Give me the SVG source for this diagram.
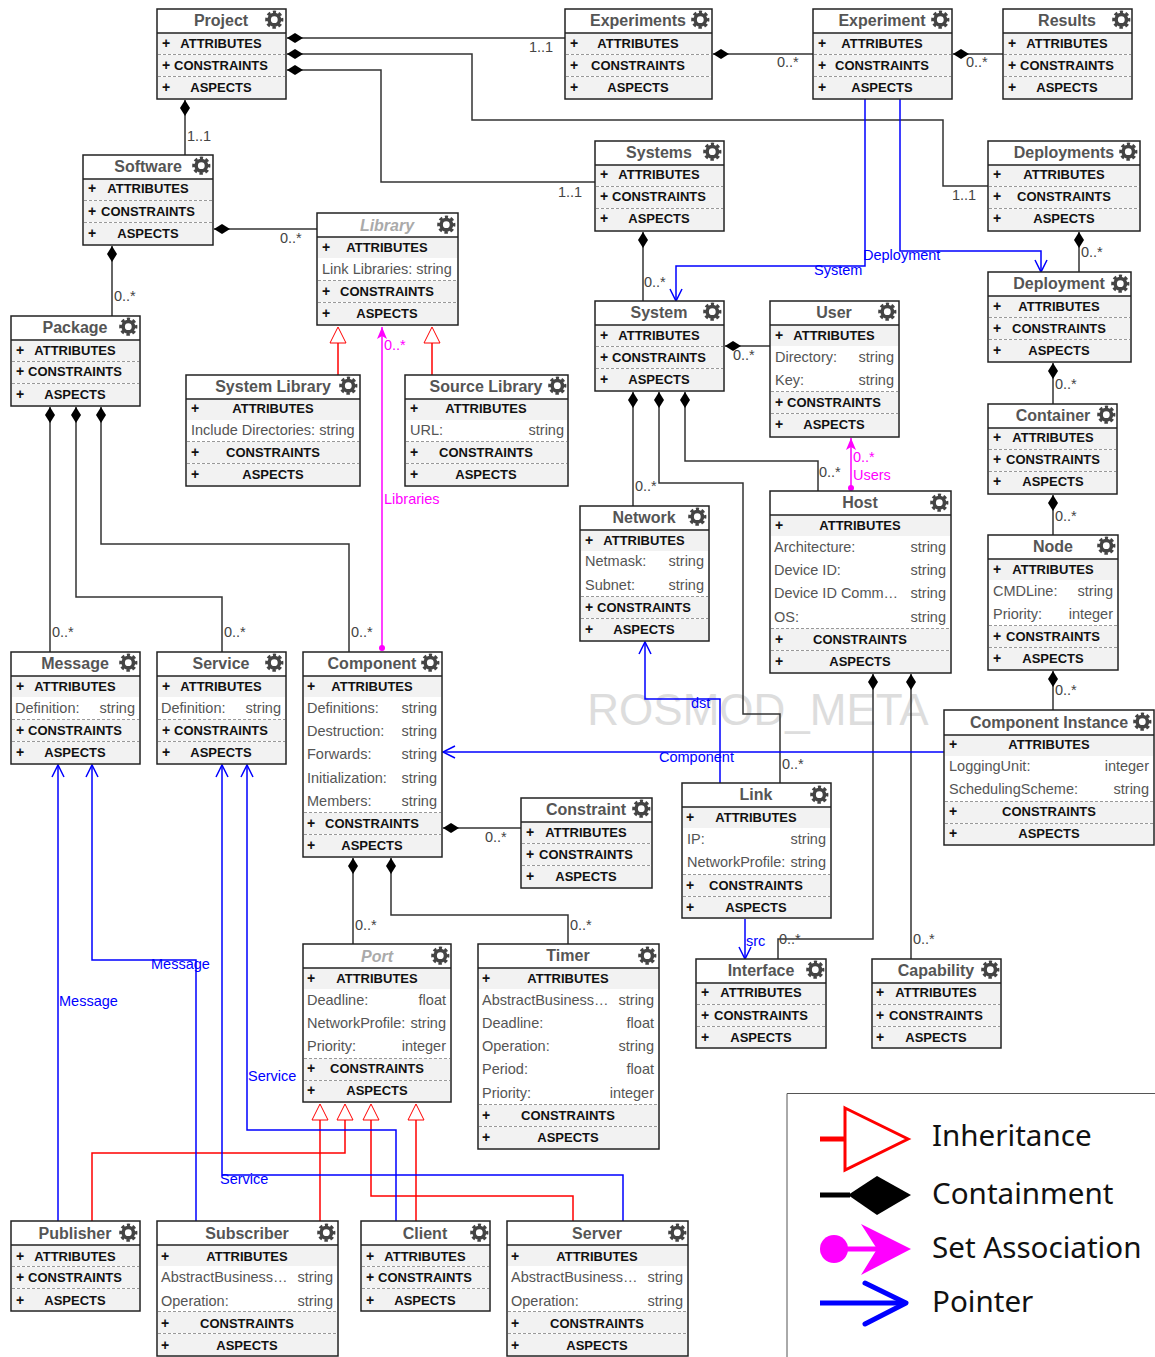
<svg xmlns="http://www.w3.org/2000/svg" xmlns:xlink="http://www.w3.org/1999/xlink" width="1155" height="1357" viewBox="0 0 1155 1357" font-family="'Liberation Sans', Arial, sans-serif">
<style>
.box{fill:#fff;stroke:#222;stroke-width:1.5}
.b{fill:#f2f2f2}
.s{stroke:#222;stroke-width:1.5}
.d{stroke:#999;stroke-width:1;stroke-dasharray:3 2}
.t{font-size:16px;font-weight:bold;fill:#555;text-anchor:middle}
.a{font-style:italic;fill:#aaa}
.h{font-size:13px;font-weight:bold;fill:#111;text-anchor:middle}
.p{font-size:14px;font-weight:bold;fill:#111}
.f{font-size:14.5px;fill:#555}
.v{font-size:14.5px;fill:#555;text-anchor:end}
.k{fill:none;stroke:#333;stroke-width:1.5}
.r{fill:none;stroke:#f00;stroke-width:1.5}
.u{fill:none;stroke:#00f;stroke-width:1.5}
.m{fill:none;stroke:#f0f;stroke-width:1.5}
.l{font-size:14.5px;fill:#444}
.lb{font-size:14.5px;fill:#00f}
.lm{font-size:14.5px;fill:#f0f}
.g{font-family:'Noto Sans','Open Sans',sans-serif;font-size:29.6px;fill:#111}
</style>
<defs>
<g id="gear"><g transform="translate(0.3,0.7)"><circle r="5.2" fill="none" stroke="#444" stroke-width="3.6"/><circle r="7.6" fill="none" stroke="#444" stroke-width="3" stroke-dasharray="3.4 2.57" stroke-dashoffset="1.7" transform="rotate(-90)"/></g></g>
<marker id="dia" markerUnits="userSpaceOnUse" markerWidth="18" markerHeight="12" refX="0" refY="5" orient="auto" overflow="visible"><path d="M0 5L8 0L16 5L8 10Z" fill="#000"/></marker>
<marker id="tri" markerUnits="userSpaceOnUse" markerWidth="18" markerHeight="18" refX="0" refY="8" orient="auto" overflow="visible"><path d="M0 0L16 8L0 16Z" fill="#fff" stroke="#f00" stroke-width="1"/></marker>
<marker id="arr" markerUnits="userSpaceOnUse" markerWidth="14" markerHeight="14" refX="12" refY="6" orient="auto" overflow="visible"><path d="M0 0L12 6L0 12" fill="none" stroke="#00f" stroke-width="1.5"/></marker>
<marker id="mag" markerUnits="userSpaceOnUse" markerWidth="14" markerHeight="14" refX="12" refY="5" orient="auto" overflow="visible"><path d="M0 0L12 5L0 10L3 5Z" fill="#f0f"/></marker>
<marker id="dot" markerUnits="userSpaceOnUse" markerWidth="8" markerHeight="8" refX="3" refY="3" orient="auto" overflow="visible"><circle cx="3" cy="3" r="3" fill="#f0f"/></marker>
</defs>
<text x="758" y="725" font-size="44" fill="#ddd" text-anchor="middle">ROSMOD_META</text>
<g id="connectors">
<path class="k" marker-start="url(#dia)" d="M287 38H565"/>
<path class="k" marker-start="url(#dia)" d="M287 54H472V120H943V186H988"/>
<path class="k" marker-start="url(#dia)" d="M287 70H381V182H595"/>
<path class="k" marker-start="url(#dia)" d="M185 100V155"/>
<path class="k" marker-start="url(#dia)" d="M214 229H317"/>
<path class="k" marker-start="url(#dia)" d="M112 246V316"/>
<path class="k" marker-start="url(#dia)" d="M50 407V652"/>
<path class="k" marker-start="url(#dia)" d="M76 407V597H222V652"/>
<path class="k" marker-start="url(#dia)" d="M101 407V544H349V652"/>
<path class="k" marker-start="url(#dia)" d="M713 54H813"/>
<path class="k" marker-start="url(#dia)" d="M953 54H1003"/>
<path class="k" marker-start="url(#dia)" d="M643 232V301"/>
<path class="k" marker-start="url(#dia)" d="M1079 232V272"/>
<path class="k" marker-start="url(#dia)" d="M1053 363V404"/>
<path class="k" marker-start="url(#dia)" d="M1053 495V535"/>
<path class="k" marker-start="url(#dia)" d="M1053 671V710"/>
<path class="k" marker-start="url(#dia)" d="M725 346H770"/>
<path class="k" marker-start="url(#dia)" d="M633 392V506"/>
<path class="k" marker-start="url(#dia)" d="M659 392V483H743V714H780V783"/>
<path class="k" marker-start="url(#dia)" d="M685 392V461H818V491"/>
<path class="k" marker-start="url(#dia)" d="M873 674V939H778V959"/>
<path class="k" marker-start="url(#dia)" d="M911 674V959"/>
<path class="k" marker-start="url(#dia)" d="M443 828H521"/>
<path class="k" marker-start="url(#dia)" d="M353 858V944"/>
<path class="k" marker-start="url(#dia)" d="M391 858V915H568V944"/>
<path class="r" marker-end="url(#tri)" d="M338 375V343"/>
<path class="r" marker-end="url(#tri)" d="M432 375V343"/>
<path class="r" marker-end="url(#tri)" d="M92 1221V1153H345V1120"/>
<path class="r" marker-end="url(#tri)" d="M320 1221V1120"/>
<path class="r" marker-end="url(#tri)" d="M416 1221V1120"/>
<path class="r" marker-end="url(#tri)" d="M573 1221V1196H371V1120"/>
<path class="u" marker-end="url(#arr)" d="M865 99V266H676V301"/>
<path class="u" marker-end="url(#arr)" d="M900 99V251H1041V272"/>
<path class="u" marker-end="url(#arr)" d="M720 783V699H645V642"/>
<path class="u" marker-end="url(#arr)" d="M745 919V959"/>
<path class="u" marker-end="url(#arr)" d="M944 752H443"/>
<path class="u" marker-end="url(#arr)" d="M58 1221V765"/>
<path class="u" marker-end="url(#arr)" d="M196 1221V960H92V765"/>
<path class="u" marker-end="url(#arr)" d="M396 1221V1130H247V765"/>
<path class="u" marker-end="url(#arr)" d="M623 1221V1175H222V765"/>
<path class="m" marker-start="url(#dot)" marker-end="url(#mag)" d="M382 648V327"/>
<path class="m" marker-start="url(#dot)" marker-end="url(#mag)" d="M851 488V438"/>
<g class="labels">
<text class="l" x="529" y="52">1..1</text>
<text class="l" x="952" y="200">1..1</text>
<text class="l" x="558" y="197">1..1</text>
<text class="l" x="187" y="141">1..1</text>
<text class="l" x="280" y="243">0..*</text>
<text class="l" x="114" y="301">0..*</text>
<text class="l" x="52" y="637">0..*</text>
<text class="l" x="224" y="637">0..*</text>
<text class="l" x="351" y="637">0..*</text>
<text class="l" x="777" y="67">0..*</text>
<text class="l" x="966" y="67">0..*</text>
<text class="l" x="644" y="287">0..*</text>
<text class="l" x="1081" y="257">0..*</text>
<text class="l" x="1055" y="389">0..*</text>
<text class="l" x="1055" y="521">0..*</text>
<text class="l" x="1055" y="695">0..*</text>
<text class="l" x="733" y="360">0..*</text>
<text class="l" x="635" y="491">0..*</text>
<text class="l" x="782" y="769">0..*</text>
<text class="l" x="819" y="477">0..*</text>
<text class="l" x="779" y="944">0..*</text>
<text class="l" x="913" y="944">0..*</text>
<text class="l" x="485" y="842">0..*</text>
<text class="l" x="355" y="930">0..*</text>
<text class="l" x="570" y="930">0..*</text>
<text class="lb" x="814" y="275">System</text>
<text class="lb" x="863" y="260">Deployment</text>
<text class="lb" x="691" y="708">dst</text>
<text class="lb" x="746" y="946">src</text>
<text class="lb" x="659" y="762">Component</text>
<text class="lb" x="59" y="1006">Message</text>
<text class="lb" x="151" y="969">Message</text>
<text class="lb" x="248" y="1081">Service</text>
<text class="lb" x="220" y="1184">Service</text>
<text class="lm" x="384" y="350">0..*</text>
<text class="lm" x="384" y="504">Libraries</text>
<text class="lm" x="853" y="462">0..*</text>
<text class="lm" x="853" y="480">Users</text>
</g>
</g>
<g id="project"><rect class="box" x="157" y="9" width="129" height="90"/><rect class="b" x="158" y="33" width="127" height="21"/><rect class="b" x="158" y="55" width="127" height="21"/><rect class="b" x="158" y="77" width="127" height="21"/><path class="s" d="M157 33H286"/><path class="d" d="M158 54.500H285M158 76.500H285"/><text class="t" x="221" y="26">Project</text><use href="#gear" x="274" y="19"/><text class="p" x="162" y="48">+</text><text class="h" x="221" y="48">ATTRIBUTES</text><text class="p" x="162" y="70">+</text><text class="h" x="221" y="70">CONSTRAINTS</text><text class="p" x="162" y="92">+</text><text class="h" x="221" y="92">ASPECTS</text></g>
<g id="experiments"><rect class="box" x="565" y="9" width="147" height="90"/><rect class="b" x="566" y="33" width="145" height="21"/><rect class="b" x="566" y="55" width="145" height="21"/><rect class="b" x="566" y="77" width="145" height="21"/><path class="s" d="M565 33H712"/><path class="d" d="M566 54.500H711M566 76.500H711"/><text class="t" x="638" y="26">Experiments</text><use href="#gear" x="700" y="19"/><text class="p" x="570" y="48">+</text><text class="h" x="638" y="48">ATTRIBUTES</text><text class="p" x="570" y="70">+</text><text class="h" x="638" y="70">CONSTRAINTS</text><text class="p" x="570" y="92">+</text><text class="h" x="638" y="92">ASPECTS</text></g>
<g id="experiment"><rect class="box" x="813" y="9" width="139" height="90"/><rect class="b" x="814" y="33" width="137" height="21"/><rect class="b" x="814" y="55" width="137" height="21"/><rect class="b" x="814" y="77" width="137" height="21"/><path class="s" d="M813 33H952"/><path class="d" d="M814 54.500H951M814 76.500H951"/><text class="t" x="882" y="26">Experiment</text><use href="#gear" x="940" y="19"/><text class="p" x="818" y="48">+</text><text class="h" x="882" y="48">ATTRIBUTES</text><text class="p" x="818" y="70">+</text><text class="h" x="882" y="70">CONSTRAINTS</text><text class="p" x="818" y="92">+</text><text class="h" x="882" y="92">ASPECTS</text></g>
<g id="results"><rect class="box" x="1003" y="9" width="129" height="90"/><rect class="b" x="1004" y="33" width="127" height="21"/><rect class="b" x="1004" y="55" width="127" height="21"/><rect class="b" x="1004" y="77" width="127" height="21"/><path class="s" d="M1003 33H1132"/><path class="d" d="M1004 54.500H1131M1004 76.500H1131"/><text class="t" x="1067" y="26">Results</text><use href="#gear" x="1121" y="19"/><text class="p" x="1008" y="48">+</text><text class="h" x="1067" y="48">ATTRIBUTES</text><text class="p" x="1008" y="70">+</text><text class="h" x="1067" y="70">CONSTRAINTS</text><text class="p" x="1008" y="92">+</text><text class="h" x="1067" y="92">ASPECTS</text></g>
<g id="software"><rect class="box" x="83" y="155" width="130" height="90"/><rect class="b" x="84" y="179" width="128" height="21"/><rect class="b" x="84" y="201" width="128" height="21"/><rect class="b" x="84" y="223" width="128" height="21"/><path class="s" d="M83 179H213"/><path class="d" d="M84 200.500H212M84 222.500H212"/><text class="t" x="148" y="172">Software</text><use href="#gear" x="201" y="165"/><text class="p" x="88" y="193">+</text><text class="h" x="148" y="193">ATTRIBUTES</text><text class="p" x="88" y="216">+</text><text class="h" x="148" y="216">CONSTRAINTS</text><text class="p" x="88" y="238">+</text><text class="h" x="148" y="238">ASPECTS</text></g>
<g id="systems"><rect class="box" x="595" y="141" width="129" height="90"/><rect class="b" x="596" y="165" width="127" height="21"/><rect class="b" x="596" y="187" width="127" height="21"/><rect class="b" x="596" y="209" width="127" height="21"/><path class="s" d="M595 165H724"/><path class="d" d="M596 186.500H723M596 208.500H723"/><text class="t" x="659" y="158">Systems</text><use href="#gear" x="712" y="151"/><text class="p" x="600" y="179">+</text><text class="h" x="659" y="179">ATTRIBUTES</text><text class="p" x="600" y="201">+</text><text class="h" x="659" y="201">CONSTRAINTS</text><text class="p" x="600" y="223">+</text><text class="h" x="659" y="223">ASPECTS</text></g>
<g id="deployments"><rect class="box" x="988" y="141" width="152" height="90"/><rect class="b" x="989" y="165" width="150" height="21"/><rect class="b" x="989" y="187" width="150" height="21"/><rect class="b" x="989" y="209" width="150" height="21"/><path class="s" d="M988 165H1140"/><path class="d" d="M989 186.500H1139M989 208.500H1139"/><text class="t" x="1064" y="158">Deployments</text><use href="#gear" x="1128" y="151"/><text class="p" x="993" y="179">+</text><text class="h" x="1064" y="179">ATTRIBUTES</text><text class="p" x="993" y="201">+</text><text class="h" x="1064" y="201">CONSTRAINTS</text><text class="p" x="993" y="223">+</text><text class="h" x="1064" y="223">ASPECTS</text></g>
<g id="library"><rect class="box" x="317" y="213" width="141" height="112"/><rect class="b" x="318" y="237" width="139" height="21"/><rect class="b" x="318" y="281" width="139" height="21"/><rect class="b" x="318" y="303" width="139" height="21"/><path class="s" d="M317 237H458"/><path class="d" d="M318 280.500H457M318 302.500H457"/><text class="t a" x="387" y="231">Library</text><use href="#gear" x="446" y="224"/><text class="p" x="322" y="252">+</text><text class="h" x="387" y="252">ATTRIBUTES</text><text class="f" x="322" y="274">Link Libraries: string</text><text class="p" x="322" y="296">+</text><text class="h" x="387" y="296">CONSTRAINTS</text><text class="p" x="322" y="318">+</text><text class="h" x="387" y="318">ASPECTS</text></g>
<g id="deployment"><rect class="box" x="988" y="272" width="143" height="90"/><rect class="b" x="989" y="296" width="141" height="21"/><rect class="b" x="989" y="318" width="141" height="21"/><rect class="b" x="989" y="340" width="141" height="21"/><path class="s" d="M988 296H1131"/><path class="d" d="M989 317.500H1130M989 339.500H1130"/><text class="t" x="1059" y="289">Deployment</text><use href="#gear" x="1120" y="283"/><text class="p" x="993" y="311">+</text><text class="h" x="1059" y="311">ATTRIBUTES</text><text class="p" x="993" y="333">+</text><text class="h" x="1059" y="333">CONSTRAINTS</text><text class="p" x="993" y="355">+</text><text class="h" x="1059" y="355">ASPECTS</text></g>
<g id="system"><rect class="box" x="595" y="301" width="129" height="90"/><rect class="b" x="596" y="325" width="127" height="21"/><rect class="b" x="596" y="347" width="127" height="21"/><rect class="b" x="596" y="369" width="127" height="21"/><path class="s" d="M595 325H724"/><path class="d" d="M596 346.500H723M596 368.500H723"/><text class="t" x="659" y="318">System</text><use href="#gear" x="712" y="311"/><text class="p" x="600" y="340">+</text><text class="h" x="659" y="340">ATTRIBUTES</text><text class="p" x="600" y="362">+</text><text class="h" x="659" y="362">CONSTRAINTS</text><text class="p" x="600" y="384">+</text><text class="h" x="659" y="384">ASPECTS</text></g>
<g id="user"><rect class="box" x="770" y="301" width="129" height="136"/><rect class="b" x="771" y="325" width="127" height="21"/><rect class="b" x="771" y="392" width="127" height="21"/><rect class="b" x="771" y="414" width="127" height="22"/><path class="s" d="M770 325H899"/><path class="d" d="M771 391.500H898M771 413.500H898"/><text class="t" x="834" y="318">User</text><use href="#gear" x="887" y="311"/><text class="p" x="775" y="340">+</text><text class="h" x="834" y="340">ATTRIBUTES</text><text class="f" x="775" y="362">Directory:</text><text class="v" x="894" y="362">string</text><text class="f" x="775" y="385">Key:</text><text class="v" x="894" y="385">string</text><text class="p" x="775" y="407">+</text><text class="h" x="834" y="407">CONSTRAINTS</text><text class="p" x="775" y="429">+</text><text class="h" x="834" y="429">ASPECTS</text></g>
<g id="package"><rect class="box" x="11" y="316" width="129" height="90"/><rect class="b" x="12" y="340" width="127" height="21"/><rect class="b" x="12" y="362" width="127" height="21"/><rect class="b" x="12" y="384" width="127" height="21"/><path class="s" d="M11 340H140"/><path class="d" d="M12 361.500H139M12 383.500H139"/><text class="t" x="75" y="333">Package</text><use href="#gear" x="128" y="326"/><text class="p" x="16" y="355">+</text><text class="h" x="75" y="355">ATTRIBUTES</text><text class="p" x="16" y="376">+</text><text class="h" x="75" y="376">CONSTRAINTS</text><text class="p" x="16" y="399">+</text><text class="h" x="75" y="399">ASPECTS</text></g>
<g id="system-library"><rect class="box" x="186" y="375" width="174" height="111"/><rect class="b" x="187" y="399" width="172" height="21"/><rect class="b" x="187" y="442" width="172" height="21"/><rect class="b" x="187" y="464" width="172" height="21"/><path class="s" d="M186 399H360"/><path class="d" d="M187 441.500H359M187 463.500H359"/><text class="t" x="273" y="392">System Library</text><use href="#gear" x="348" y="385"/><text class="p" x="191" y="413">+</text><text class="h" x="273" y="413">ATTRIBUTES</text><text class="f" x="191" y="435">Include Directories: string</text><text class="p" x="191" y="457">+</text><text class="h" x="273" y="457">CONSTRAINTS</text><text class="p" x="191" y="479">+</text><text class="h" x="273" y="479">ASPECTS</text></g>
<g id="source-library"><rect class="box" x="405" y="375" width="163" height="111"/><rect class="b" x="406" y="399" width="161" height="21"/><rect class="b" x="406" y="442" width="161" height="21"/><rect class="b" x="406" y="464" width="161" height="21"/><path class="s" d="M405 399H568"/><path class="d" d="M406 441.500H567M406 463.500H567"/><text class="t" x="486" y="392">Source Library</text><use href="#gear" x="557" y="385"/><text class="p" x="410" y="413">+</text><text class="h" x="486" y="413">ATTRIBUTES</text><text class="f" x="410" y="435">URL:</text><text class="v" x="564" y="435">string</text><text class="p" x="410" y="457">+</text><text class="h" x="486" y="457">CONSTRAINTS</text><text class="p" x="410" y="479">+</text><text class="h" x="486" y="479">ASPECTS</text></g>
<g id="container"><rect class="box" x="988" y="404" width="129" height="90"/><rect class="b" x="989" y="428" width="127" height="21"/><rect class="b" x="989" y="450" width="127" height="21"/><rect class="b" x="989" y="472" width="127" height="21"/><path class="s" d="M988 428H1117"/><path class="d" d="M989 449.500H1116M989 471.500H1116"/><text class="t" x="1053" y="421">Container</text><use href="#gear" x="1106" y="414"/><text class="p" x="993" y="442">+</text><text class="h" x="1053" y="442">ATTRIBUTES</text><text class="p" x="993" y="464">+</text><text class="h" x="1053" y="464">CONSTRAINTS</text><text class="p" x="993" y="486">+</text><text class="h" x="1053" y="486">ASPECTS</text></g>
<g id="host"><rect class="box" x="770" y="491" width="181" height="182"/><rect class="b" x="771" y="515" width="179" height="21"/><rect class="b" x="771" y="629" width="179" height="21"/><rect class="b" x="771" y="651" width="179" height="21"/><path class="s" d="M770 515H951"/><path class="d" d="M771 628.500H950M771 650.500H950"/><text class="t" x="860" y="508">Host</text><use href="#gear" x="939" y="502"/><text class="p" x="775" y="530">+</text><text class="h" x="860" y="530">ATTRIBUTES</text><text class="f" x="774" y="552">Architecture:</text><text class="v" x="946" y="552">string</text><text class="f" x="774" y="575">Device ID:</text><text class="v" x="946" y="575">string</text><text class="f" x="774" y="598">Device ID Comm…</text><text class="v" x="946" y="598">string</text><text class="f" x="774" y="622">OS:</text><text class="v" x="946" y="622">string</text><text class="p" x="775" y="644">+</text><text class="h" x="860" y="644">CONSTRAINTS</text><text class="p" x="775" y="666">+</text><text class="h" x="860" y="666">ASPECTS</text></g>
<g id="network"><rect class="box" x="580" y="506" width="129" height="135"/><rect class="b" x="581" y="530" width="127" height="21"/><rect class="b" x="581" y="597" width="127" height="21"/><rect class="b" x="581" y="619" width="127" height="21"/><path class="s" d="M580 530H709"/><path class="d" d="M581 596.500H708M581 618.500H708"/><text class="t" x="644" y="523">Network</text><use href="#gear" x="697" y="516"/><text class="p" x="585" y="545">+</text><text class="h" x="644" y="545">ATTRIBUTES</text><text class="f" x="585" y="566">Netmask:</text><text class="v" x="704" y="566">string</text><text class="f" x="585" y="590">Subnet:</text><text class="v" x="704" y="590">string</text><text class="p" x="585" y="612">+</text><text class="h" x="644" y="612">CONSTRAINTS</text><text class="p" x="585" y="634">+</text><text class="h" x="644" y="634">ASPECTS</text></g>
<g id="node"><rect class="box" x="988" y="535" width="130" height="135"/><rect class="b" x="989" y="559" width="128" height="21"/><rect class="b" x="989" y="626" width="128" height="21"/><rect class="b" x="989" y="648" width="128" height="21"/><path class="s" d="M988 559H1118"/><path class="d" d="M989 625.500H1117M989 647.500H1117"/><text class="t" x="1053" y="552">Node</text><use href="#gear" x="1106" y="545"/><text class="p" x="993" y="574">+</text><text class="h" x="1053" y="574">ATTRIBUTES</text><text class="f" x="993" y="596">CMDLine:</text><text class="v" x="1113" y="596">string</text><text class="f" x="993" y="619">Priority:</text><text class="v" x="1113" y="619">integer</text><text class="p" x="993" y="641">+</text><text class="h" x="1053" y="641">CONSTRAINTS</text><text class="p" x="993" y="663">+</text><text class="h" x="1053" y="663">ASPECTS</text></g>
<g id="message"><rect class="box" x="11" y="652" width="129" height="112"/><rect class="b" x="12" y="676" width="127" height="21"/><rect class="b" x="12" y="720" width="127" height="21"/><rect class="b" x="12" y="742" width="127" height="21"/><path class="s" d="M11 676H140"/><path class="d" d="M12 719.500H139M12 741.500H139"/><text class="t" x="75" y="669">Message</text><use href="#gear" x="128" y="662"/><text class="p" x="16" y="691">+</text><text class="h" x="75" y="691">ATTRIBUTES</text><text class="f" x="15" y="713">Definition:</text><text class="v" x="135" y="713">string</text><text class="p" x="16" y="735">+</text><text class="h" x="75" y="735">CONSTRAINTS</text><text class="p" x="16" y="757">+</text><text class="h" x="75" y="757">ASPECTS</text></g>
<g id="service"><rect class="box" x="157" y="652" width="129" height="112"/><rect class="b" x="158" y="676" width="127" height="21"/><rect class="b" x="158" y="720" width="127" height="21"/><rect class="b" x="158" y="742" width="127" height="21"/><path class="s" d="M157 676H286"/><path class="d" d="M158 719.500H285M158 741.500H285"/><text class="t" x="221" y="669">Service</text><use href="#gear" x="274" y="662"/><text class="p" x="162" y="691">+</text><text class="h" x="221" y="691">ATTRIBUTES</text><text class="f" x="161" y="713">Definition:</text><text class="v" x="281" y="713">string</text><text class="p" x="162" y="735">+</text><text class="h" x="221" y="735">CONSTRAINTS</text><text class="p" x="162" y="757">+</text><text class="h" x="221" y="757">ASPECTS</text></g>
<g id="component"><rect class="box" x="303" y="652" width="139" height="205"/><rect class="b" x="304" y="676" width="137" height="21"/><rect class="b" x="304" y="813" width="137" height="21"/><rect class="b" x="304" y="835" width="137" height="21"/><path class="s" d="M303 676H442"/><path class="d" d="M304 812.500H441M304 834.500H441"/><text class="t" x="372" y="669">Component</text><use href="#gear" x="430" y="662"/><text class="p" x="307" y="691">+</text><text class="h" x="372" y="691">ATTRIBUTES</text><text class="f" x="307" y="713">Definitions:</text><text class="v" x="437" y="713">string</text><text class="f" x="307" y="736">Destruction:</text><text class="v" x="437" y="736">string</text><text class="f" x="307" y="759">Forwards:</text><text class="v" x="437" y="759">string</text><text class="f" x="307" y="783">Initialization:</text><text class="v" x="437" y="783">string</text><text class="f" x="307" y="806">Members:</text><text class="v" x="437" y="806">string</text><text class="p" x="307" y="828">+</text><text class="h" x="372" y="828">CONSTRAINTS</text><text class="p" x="307" y="850">+</text><text class="h" x="372" y="850">ASPECTS</text></g>
<g id="component-instance"><rect class="box" x="944" y="710" width="210" height="135"/><rect class="b" x="945" y="735" width="208" height="21"/><rect class="b" x="945" y="802" width="208" height="21"/><rect class="b" x="945" y="824" width="208" height="20"/><path class="s" d="M944 735H1154"/><path class="d" d="M945 801.500H1153M945 823.500H1153"/><text class="t" x="1049" y="728">Component Instance</text><use href="#gear" x="1142" y="721"/><text class="p" x="949" y="749">+</text><text class="h" x="1049" y="749">ATTRIBUTES</text><text class="f" x="949" y="771">LoggingUnit:</text><text class="v" x="1149" y="771">integer</text><text class="f" x="949" y="794">SchedulingScheme:</text><text class="v" x="1149" y="794">string</text><text class="p" x="949" y="816">+</text><text class="h" x="1049" y="816">CONSTRAINTS</text><text class="p" x="949" y="838">+</text><text class="h" x="1049" y="838">ASPECTS</text></g>
<g id="constraint"><rect class="box" x="521" y="798" width="131" height="90"/><rect class="b" x="522" y="822" width="129" height="21"/><rect class="b" x="522" y="844" width="129" height="21"/><rect class="b" x="522" y="866" width="129" height="21"/><path class="s" d="M521 822H652"/><path class="d" d="M522 843.500H651M522 865.500H651"/><text class="t" x="586" y="815">Constraint</text><use href="#gear" x="641" y="808"/><text class="p" x="526" y="837">+</text><text class="h" x="586" y="837">ATTRIBUTES</text><text class="p" x="526" y="859">+</text><text class="h" x="586" y="859">CONSTRAINTS</text><text class="p" x="526" y="881">+</text><text class="h" x="586" y="881">ASPECTS</text></g>
<g id="link"><rect class="box" x="682" y="783" width="149" height="135"/><rect class="b" x="683" y="807" width="147" height="21"/><rect class="b" x="683" y="875" width="147" height="21"/><rect class="b" x="683" y="897" width="147" height="20"/><path class="s" d="M682 807H831"/><path class="d" d="M683 874.500H830M683 896.500H830"/><text class="t" x="756" y="800">Link</text><use href="#gear" x="819" y="794"/><text class="p" x="686" y="822">+</text><text class="h" x="756" y="822">ATTRIBUTES</text><text class="f" x="687" y="844">IP:</text><text class="v" x="826" y="844">string</text><text class="f" x="687" y="867">NetworkProfile:</text><text class="v" x="826" y="867">string</text><text class="p" x="686" y="890">+</text><text class="h" x="756" y="890">CONSTRAINTS</text><text class="p" x="686" y="912">+</text><text class="h" x="756" y="912">ASPECTS</text></g>
<g id="port"><rect class="box" x="303" y="944" width="148" height="158"/><rect class="b" x="304" y="968" width="146" height="21"/><rect class="b" x="304" y="1059" width="146" height="21"/><rect class="b" x="304" y="1081" width="146" height="20"/><path class="s" d="M303 968H451"/><path class="d" d="M304 1058.500H450M304 1080.500H450"/><text class="t a" x="377" y="962">Port</text><use href="#gear" x="440" y="955"/><text class="p" x="307" y="983">+</text><text class="h" x="377" y="983">ATTRIBUTES</text><text class="f" x="307" y="1005">Deadline:</text><text class="v" x="446" y="1005">float</text><text class="f" x="307" y="1028">NetworkProfile:</text><text class="v" x="446" y="1028">string</text><text class="f" x="307" y="1051">Priority:</text><text class="v" x="446" y="1051">integer</text><text class="p" x="307" y="1073">+</text><text class="h" x="377" y="1073">CONSTRAINTS</text><text class="p" x="307" y="1095">+</text><text class="h" x="377" y="1095">ASPECTS</text></g>
<g id="timer"><rect class="box" x="478" y="944" width="181" height="205"/><rect class="b" x="479" y="968" width="179" height="21"/><rect class="b" x="479" y="1105" width="179" height="21"/><rect class="b" x="479" y="1127" width="179" height="21"/><path class="s" d="M478 968H659"/><path class="d" d="M479 1104.500H658M479 1126.500H658"/><text class="t" x="568" y="961">Timer</text><use href="#gear" x="647" y="955"/><text class="p" x="482" y="983">+</text><text class="h" x="568" y="983">ATTRIBUTES</text><text class="f" x="482" y="1005">AbstractBusiness…</text><text class="v" x="654" y="1005">string</text><text class="f" x="482" y="1028">Deadline:</text><text class="v" x="654" y="1028">float</text><text class="f" x="482" y="1051">Operation:</text><text class="v" x="654" y="1051">string</text><text class="f" x="482" y="1074">Period:</text><text class="v" x="654" y="1074">float</text><text class="f" x="482" y="1098">Priority:</text><text class="v" x="654" y="1098">integer</text><text class="p" x="482" y="1120">+</text><text class="h" x="568" y="1120">CONSTRAINTS</text><text class="p" x="482" y="1142">+</text><text class="h" x="568" y="1142">ASPECTS</text></g>
<g id="interface"><rect class="box" x="696" y="959" width="130" height="89"/><rect class="b" x="697" y="983" width="128" height="21"/><rect class="b" x="697" y="1005" width="128" height="21"/><rect class="b" x="697" y="1027" width="128" height="20"/><path class="s" d="M696 983H826"/><path class="d" d="M697 1004.500H825M697 1026.500H825"/><text class="t" x="761" y="976">Interface</text><use href="#gear" x="815" y="969"/><text class="p" x="701" y="997">+</text><text class="h" x="761" y="997">ATTRIBUTES</text><text class="p" x="701" y="1020">+</text><text class="h" x="761" y="1020">CONSTRAINTS</text><text class="p" x="701" y="1042">+</text><text class="h" x="761" y="1042">ASPECTS</text></g>
<g id="capability"><rect class="box" x="872" y="959" width="129" height="89"/><rect class="b" x="873" y="983" width="127" height="21"/><rect class="b" x="873" y="1005" width="127" height="21"/><rect class="b" x="873" y="1027" width="127" height="20"/><path class="s" d="M872 983H1001"/><path class="d" d="M873 1004.500H1000M873 1026.500H1000"/><text class="t" x="936" y="976">Capability</text><use href="#gear" x="990" y="969"/><text class="p" x="876" y="997">+</text><text class="h" x="936" y="997">ATTRIBUTES</text><text class="p" x="876" y="1020">+</text><text class="h" x="936" y="1020">CONSTRAINTS</text><text class="p" x="876" y="1042">+</text><text class="h" x="936" y="1042">ASPECTS</text></g>
<g id="publisher"><rect class="box" x="11" y="1221" width="129" height="90"/><rect class="b" x="12" y="1245" width="127" height="21"/><rect class="b" x="12" y="1267" width="127" height="21"/><rect class="b" x="12" y="1289" width="127" height="21"/><path class="s" d="M11 1245H140"/><path class="d" d="M12 1266.500H139M12 1288.500H139"/><text class="t" x="75" y="1239">Publisher</text><use href="#gear" x="128" y="1232"/><text class="p" x="16" y="1261">+</text><text class="h" x="75" y="1261">ATTRIBUTES</text><text class="p" x="16" y="1282">+</text><text class="h" x="75" y="1282">CONSTRAINTS</text><text class="p" x="16" y="1305">+</text><text class="h" x="75" y="1305">ASPECTS</text></g>
<g id="subscriber"><rect class="box" x="157" y="1221" width="181" height="135"/><rect class="b" x="158" y="1245" width="179" height="21"/><rect class="b" x="158" y="1312" width="179" height="21"/><rect class="b" x="158" y="1334" width="179" height="21"/><path class="s" d="M157 1245H338"/><path class="d" d="M158 1311.500H337M158 1333.500H337"/><text class="t" x="247" y="1239">Subscriber</text><use href="#gear" x="326" y="1232"/><text class="p" x="161" y="1261">+</text><text class="h" x="247" y="1261">ATTRIBUTES</text><text class="f" x="161" y="1282">AbstractBusiness…</text><text class="v" x="333" y="1282">string</text><text class="f" x="161" y="1306">Operation:</text><text class="v" x="333" y="1306">string</text><text class="p" x="161" y="1328">+</text><text class="h" x="247" y="1328">CONSTRAINTS</text><text class="p" x="161" y="1350">+</text><text class="h" x="247" y="1350">ASPECTS</text></g>
<g id="client"><rect class="box" x="361" y="1221" width="129" height="90"/><rect class="b" x="362" y="1245" width="127" height="21"/><rect class="b" x="362" y="1267" width="127" height="21"/><rect class="b" x="362" y="1289" width="127" height="21"/><path class="s" d="M361 1245H490"/><path class="d" d="M362 1266.500H489M362 1288.500H489"/><text class="t" x="425" y="1239">Client</text><use href="#gear" x="479" y="1232"/><text class="p" x="366" y="1261">+</text><text class="h" x="425" y="1261">ATTRIBUTES</text><text class="p" x="366" y="1282">+</text><text class="h" x="425" y="1282">CONSTRAINTS</text><text class="p" x="366" y="1305">+</text><text class="h" x="425" y="1305">ASPECTS</text></g>
<g id="server"><rect class="box" x="507" y="1221" width="181" height="135"/><rect class="b" x="508" y="1245" width="179" height="21"/><rect class="b" x="508" y="1312" width="179" height="21"/><rect class="b" x="508" y="1334" width="179" height="21"/><path class="s" d="M507 1245H688"/><path class="d" d="M508 1311.500H687M508 1333.500H687"/><text class="t" x="597" y="1239">Server</text><use href="#gear" x="677" y="1232"/><text class="p" x="511" y="1261">+</text><text class="h" x="597" y="1261">ATTRIBUTES</text><text class="f" x="511" y="1282">AbstractBusiness…</text><text class="v" x="683" y="1282">string</text><text class="f" x="511" y="1306">Operation:</text><text class="v" x="683" y="1306">string</text><text class="p" x="511" y="1328">+</text><text class="h" x="597" y="1328">CONSTRAINTS</text><text class="p" x="511" y="1350">+</text><text class="h" x="597" y="1350">ASPECTS</text></g>
<g id="legend">
<path d="M787 1357V1093.500H1155" fill="none" stroke="#555" stroke-width="1"/>
<path d="M820 1139H844" stroke="#f00" stroke-width="5" fill="none"/>
<path d="M845 1108L908 1139L845 1170Z" fill="#fff" stroke="#f00" stroke-width="3"/>
<path d="M820 1195H850" stroke="#000" stroke-width="5" fill="none"/>
<path d="M848 1195L877 1176L911 1195L877 1215Z" fill="#000"/>
<circle cx="834" cy="1249" r="14" fill="#f0f"/>
<path d="M846 1249H880" stroke="#f0f" stroke-width="5" fill="none"/>
<path d="M861 1224L911 1249L861 1275L877 1249Z" fill="#f0f"/>
<path d="M820 1303H905" stroke="#00f" stroke-width="5" fill="none"/>
<path d="M865 1283L906 1303L865 1324" fill="none" stroke="#00f" stroke-width="5" stroke-linecap="round" stroke-linejoin="round"/>
<text class="g" x="932" y="1146">Inheritance</text>
<text class="g" x="932" y="1204">Containment</text>
<text class="g" x="932" y="1258">Set Association</text>
<text class="g" x="932" y="1312">Pointer</text>
</g>
</svg>
